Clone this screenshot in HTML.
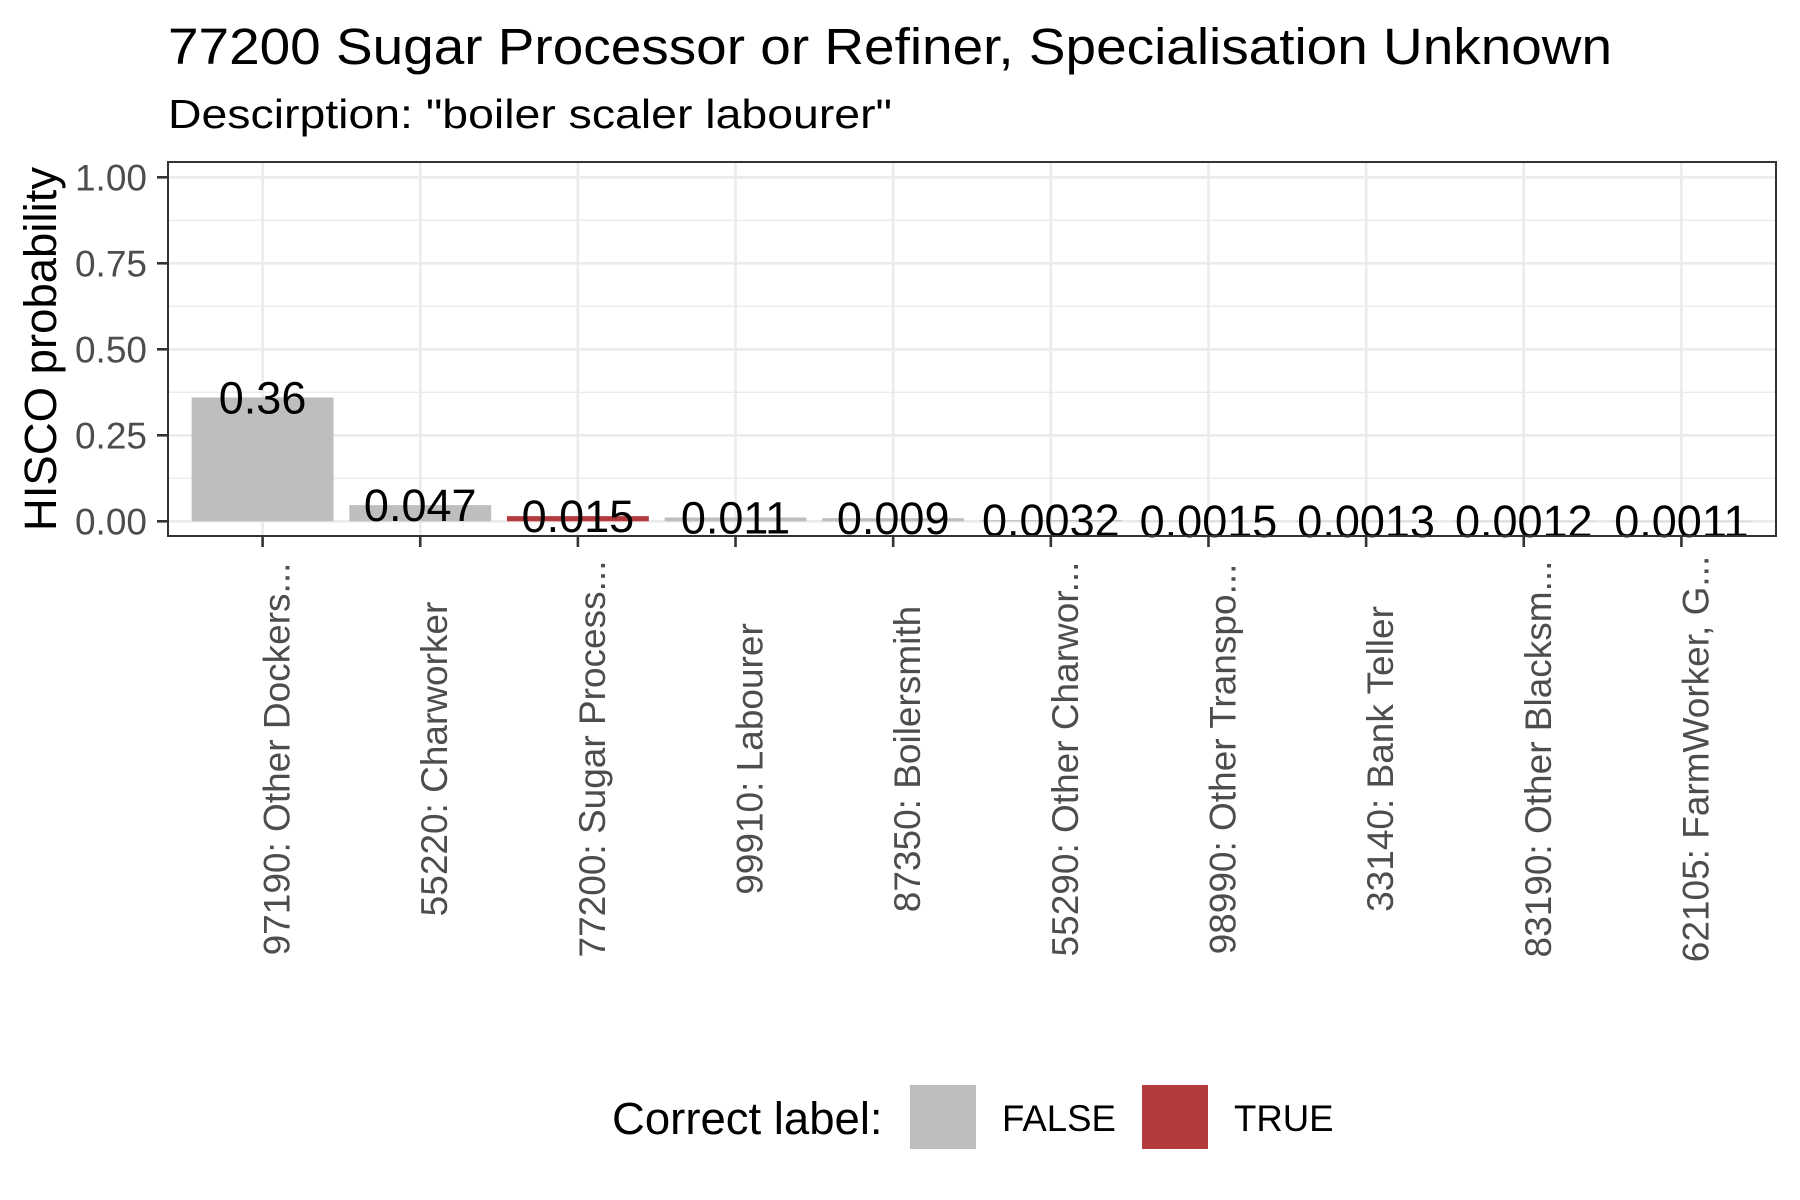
<!DOCTYPE html>
<html><head><meta charset="utf-8"><style>
body{margin:0;background:#fff}
svg{display:block;font-family:"Liberation Sans",Arial,sans-serif}
</style></head><body>
<svg id="chart" width="1800" height="1200" viewBox="0 0 1800 1200" xmlns="http://www.w3.org/2000/svg">
<rect width="1800" height="1200" fill="#fff"/>
<text x="168" y="64" font-size="51" textLength="1444" lengthAdjust="spacingAndGlyphs" fill="#000">77200 Sugar Processor or Refiner, Specialisation Unknown</text>
<text x="168" y="128" font-size="41" textLength="724" lengthAdjust="spacingAndGlyphs" fill="#000">Descirption: "boiler scaler labourer"</text>
<g id="grid"></g>
<g id="bars"></g>
<rect x="168" y="162" width="1608" height="374" fill="none" stroke="#333" stroke-width="2"/>
<g id="axes"></g>
<text transform="translate(56,349) rotate(-90)" text-anchor="middle" font-size="45.5" fill="#000">HISCO probability</text>
<g>
<text x="612" y="1134" font-size="45.5" fill="#000">Correct label:</text>
<rect x="910" y="1085" width="66" height="64" fill="#BEBEBE"/>
<text x="1002" y="1131" font-size="36.6" fill="#000">FALSE</text>
<rect x="1142" y="1085" width="66" height="64" fill="#B33B3E"/>
<text x="1234" y="1131" font-size="36.6" fill="#000">TRUE</text>
</g>
</svg>
<script>
const categories = ["97190: Other Dockers...","55220: Charworker","77200: Sugar Process...","99910: Labourer","87350: Boilersmith","55290: Other Charwor...","98990: Other Transpo...","33140: Bank Teller","83190: Other Blacksm...","62105: FarmWorker, G..."];
const values = [0.36,0.047,0.015,0.011,0.009,0.0032,0.0015,0.0013,0.0012,0.0011];
const valueLabels = ["0.36","0.047","0.015","0.011","0.009","0.0032","0.0015","0.0013","0.0012","0.0011"];
const correct = [false,false,true,false,false,false,false,false,false,false];
const yTicks = [0,0.25,0.5,0.75,1];
const yTickLabels = ["0.00","0.25","0.50","0.75","1.00"];
const yMinor = [0.125,0.375,0.625,0.875];

const NS="http://www.w3.org/2000/svg";
const pL=168,pR=1776,pT=162,pB=536;
const band=(pR-pL)/(categories.length+0.2);
function x(i){return pL+band*(0.6+i);}
function y(v){return 521.3-v*344;}
function mk(tag,attrs,parent){const e=document.createElementNS(NS,tag);for(const k in attrs)e.setAttribute(k,attrs[k]);parent.appendChild(e);return e;}
const grid=document.getElementById('grid'),bars=document.getElementById('bars'),axes=document.getElementById('axes');
mk('rect',{x:pL,y:pT,width:pR-pL,height:pB-pT,fill:'#fff'},grid);
yMinor.forEach(v=>{const l=mk('line',{x1:pL,x2:pR,y1:y(v),y2:y(v),stroke:'#EBEBEB','stroke-width':1.3},grid);

});
yTicks.forEach((v,i)=>{const l=mk('line',{x1:pL,x2:pR,y1:y(v),y2:y(v),stroke:'#EBEBEB','stroke-width':2.6},grid);


const t=mk('line',{x1:pL-11,x2:pL,y1:y(v),y2:y(v),stroke:'#333','stroke-width':2.6},axes);


const tx=mk('text',{x:147,y:y(v)+13,'text-anchor':'end','font-size':37,fill:'#4D4D4D'},axes);tx.textContent=yTickLabels[i];

});
categories.forEach((c,i)=>{const cx=x(i);
const g=mk('line',{x1:cx,x2:cx,y1:pT,y2:pB,stroke:'#EBEBEB','stroke-width':2.6},grid);


const bw=band*0.9,top=y(values[i]),bot=y(0);
const b=mk('rect',{x:cx-bw/2,y:top,width:bw,height:Math.max(bot-top,0.5),fill:correct[i]?'#B33B3E':'#BEBEBE'},bars);


const lt=mk('text',{x:cx,y:top+16,'text-anchor':'middle','font-size':45,fill:'#000'},bars);lt.textContent=valueLabels[i];


const t=mk('line',{x1:cx,x2:cx,y1:pB,y2:pB+11,stroke:'#333','stroke-width':2.6},axes);


const xl=mk('text',{transform:`translate(${cx+27},759) rotate(-90)`,'text-anchor':'middle','font-size':37,fill:'#4D4D4D'},axes);xl.textContent=c;

});
</script>
</body></html>
